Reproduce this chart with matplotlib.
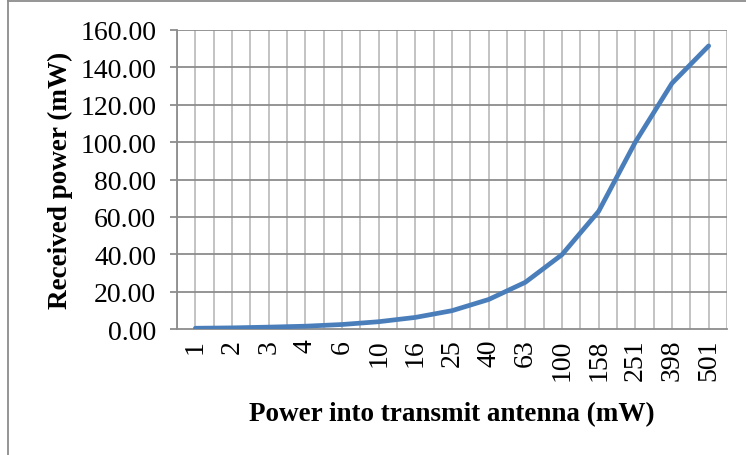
import numpy as np
import matplotlib
matplotlib.use('Agg')
import matplotlib.pyplot as plt
from matplotlib.lines import Line2D

# transmit power categories (mW) and received power (mW)
tx_labels = ['1', '2', '3', '4', '6', '10', '16', '25', '40', '63',
             '100', '158', '251', '398', '501']
rx_power = [0.4, 0.6, 1.0, 1.5, 2.4, 3.9, 6.2, 9.8, 15.8, 25.0,
            39.8, 63.0, 100.0, 131.5, 151.5]
y_ticks = [0, 20, 40, 60, 80, 100, 120, 140, 160]

plt.rcParams['font.family'] = ['Liberation Serif', 'DejaVu Serif']

fig = plt.figure(figsize=(7.46, 4.56), dpi=100)
ax = fig.add_axes([177 / 746, 1 - 330 / 456, 550 / 746, 299 / 456])

x = np.arange(len(tx_labels))
ax.set_xlim(-0.5, len(tx_labels) - 0.5)
ax.set_ylim(0, 160)

# vertical grid at category centres and boundaries
for v in np.arange(-0.5, len(tx_labels), 0.5):
    ax.axvline(v, color='#BEBEBE', lw=1.3, zorder=1)
for t in y_ticks[1:]:
    ax.axhline(t, color='#8C8C8C', lw=1.3, zorder=1)

ax.plot(x, rx_power, color='#4A7EBB', lw=3.4, solid_capstyle='round', zorder=3)

ax.set_yticks(y_ticks)
ax.set_yticklabels([f'{t:.2f}' for t in y_ticks], fontsize=20)
ax.set_xticks(x)
ax.set_xticklabels(tx_labels, rotation=90, fontsize=20)
ax.tick_params(axis='x', length=0, pad=7)
ax.tick_params(axis='y', length=5, width=1.3, color='#8C8C8C', pad=10)

for s in ['top', 'right']:
    ax.spines[s].set_visible(False)
ax.spines['left'].set_color('#8C8C8C')
ax.spines['bottom'].set_color('#8C8C8C')
ax.spines['left'].set_linewidth(1.3)
ax.spines['bottom'].set_linewidth(1.3)

ax.set_ylabel('Received power (mW)', fontsize=19.5, fontweight='bold', labelpad=5)
ax.set_xlabel('Power into transmit antenna (mW)', fontsize=19.5, fontweight='bold', labelpad=15)

# chart frame (left and top edges)
fig.add_artist(Line2D([7.5 / 746, 7.5 / 746], [0, 1 - 2 / 456], color='#8C8C8C', lw=1.3))
fig.add_artist(Line2D([7.5 / 746, 1], [1 - 2 / 456, 1 - 2 / 456], color='#8C8C8C', lw=1.3))

fig.savefig('out.png', dpi=100)
